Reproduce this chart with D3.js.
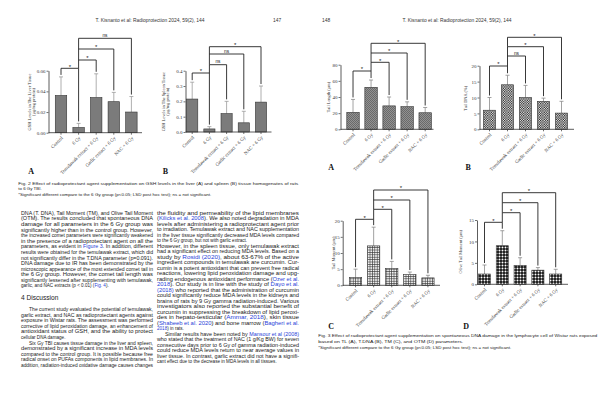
<!DOCTYPE html>
<html><head><meta charset="utf-8">
<script src="https://cdn.jsdelivr.net/npm/d3@7"></script>
<style>html,body{margin:0;padding:0;background:#fff;} svg{display:block;}</style>
</head><body>
<svg id="c" width="600" height="400"></svg>
<script>
// ---------- DATA ----------
const groups = ["Control","6 Gy","Temulawak extract + 6 Gy","Garlic extract + 6 Gy","NAC + 6 Gy"];
const comparisons = [[0,1],[1,2],[1,3],[1,4]];

const gshLiverMean = [0.036,0.005,0.034,0.030,0.020];
const gshLiverSD   = [0.018,0.004,0.023,0.009,0.015];
const gshLiverSig  = ["*","*","*","ns"];
const gshLiverTicks = [0,0.02,0.04,0.06];

const gshSpleenMean = [0.215,0.02,0.12,0.06,0.195];
const gshSpleenSD   = [0.11,0.015,0.08,0.075,0.105];
const gshSpleenSig  = ["*","ns","ns","*"];
const gshSpleenTicks = [0,0.1,0.2,0.3,0.4];

const tlMean = [21,52,29,28,20.5];
const tlSD   = [16,9,11,6,6.5];
const tlSig  = ["*","*","*","*"];
const tlTicks = [0,20,40,60,80];

const tdnaMean = [6,14,10,8.8,5.1];
const tdnaSD   = [4,3,3.8,1,3.7];
const tdnaSig  = ["*","ns","*","*"];
const tdnaTicks = [0,5,10,15,20];

const tmMean = [2.4,12.2,5.2,3.3,2.3];
const tmSD   = [2.6,5.8,2.2,0.8,0.8];
const tmSig  = ["*","*","*","*"];
const tmTicks = [0,5,10,15,20];

const otmMean = [2.4,9,4.4,3.3,2.4];
const otmSD   = [2.1,3.5,1.8,0.6,1.1];
const otmSig  = ["*","*","*","*"];
const otmTicks = [0,5,10,15];

// ---------- TEXT ----------
const headerLeft = "T. Kisnanto et al: Radioprotection 2024, 59(2), 144";
const headerRight = "T. Kisnanto et al: Radioprotection 2024, 59(2), 144";
const fig2Caption = [
 "Fig. 2 Effect of radioprotectant agent supplementation on GSH levels in the liver (A) and spleen (B) tissue homogenates of rats",
 "to 6 Gy TBI.",
 "*Significant different compare to the 6 Gy group (p<0.05; LSD post hoc test); ns = not significant."
];
const fig3Caption = [
 "Fig. 3 Effect of radioprotectant agent supplementation on spontaneous DNA damage in the lymphocyte cell of Wistar rats exposed",
 "based on TL (A), T.DNA (B), TM (C), and OTM (D) parameters.",
 "*Significant different compare to the 6 Gy group (p<0.05; LSD post hoc test); ns = not significant."
];
const col1a = [
 "DNA (T. DNA), Tail Moment (TM), and Olive Tail Moment",
 "(OTM). The results concluded that spontaneous DNA",
 "damage for all parameters in the 6 Gy group was",
 "significantly higher than in the control group. However,",
 "the increased comet parameters were significantly weakened",
 "in the presence of a radioprotectant agent on all the",
 "parameters, as evident in [[Figure 3]]. In addition, different",
 "results were obtained for the temulawak extract, which did",
 "not significantly differ in the T.DNA parameter (p=0.091).",
 "DNA damage due to IR has been demonstrated by the",
 "microscopic appearance of the most extended comet tail in",
 "the 6 Gy group. However, the comet tail length was",
 "significantly lessened after supplementing with temulawak,",
 "garlic, and NAC extracts (p < 0.01) ([[Fig. 4]]).¶"
];
const discussionTitle = "4 Discussion";
const col1b = [
 "\tThe current study evaluated the potential of temulawak,",
 "garlic extract, and NAC as radioprotectant agents against",
 "exposure in Wistar rats. The assessment was performed",
 "corrective of lipid peroxidation damage, an enhancement of",
 "antioxidant status of GSH, and the ability to protect",
 "cellular DNA damage.¶",
 "\tSix Gy TBI causes tissue damage in the liver and spleen,",
 "demonstrated by a significant increase in MDA levels",
 "compared to the control group. It is possible because free",
 "radical onset on PUFAs components in lipid membranes. In",
 "addition, radiation-induced oxidative damage causes changes"
];
const col2 = [
 "the fluidity and permeability of the lipid membranes",
 "([[Kilicks et al. 2008]]). We also noted degradation in MDA",
 "levels after administering a radioprotectant agent prior",
 "to irradiation. Temulawak extract and NAC supplementation",
 "in the liver tissue significantly decreased MDA levels compared",
 "to the 6 Gy group, but not with garlic extract.¶",
 "However, in the spleen tissue, only temulawak extract",
 "had a significant effect on reducing MDA levels. Based on a",
 "study by [[Rosidi (2020)]], about 63-67% of the active",
 "ingredient compounds in temulawak are curcumin. Cur-",
 "cumin is a potent antioxidant that can prevent free radical",
 "reactions, lowering lipid peroxidation damage and upg-",
 "rading endogenous antioxidant performance ([[Ozer et al.]]",
 "[[2018]]). Our study is in line with the study of [[Dayo et al.]]",
 "[[(2018)]] who reported that the administration of curcumin",
 "could significantly reduce MDA levels in the kidneys and",
 "brains of rats by 9 Gy gamma radiation-induced. Various",
 "investigators also reported the substantial benefit of",
 "curcumin in suppressing the breakdown of lipid peroxi-",
 "des in hepato-testicular ([[Ammar, 2018]]), skin tissue",
 "([[Shabeeb et al. 2020]]) and bone marrow ([[Bagheri et al.]]",
 "[[2018]]) in rats.¶",
 "\tSimilar results have been noted by [[Mansour et al (2008)]]",
 "who stated that the treatment of NAC (1 g/Kg BW) for seven",
 "consecutive days prior to 6 Gy of gamma radiation-induced",
 "could reduce MDA levels return to near average values in",
 "liver tissue. In contrast, garlic extract did not have a signifi-",
 "cant effect due to the decrease in MDA levels in all tissues.¶"
];

// ---------- RENDER ----------
const svg = d3.select("#c");
svg.append("rect").attr("width",600).attr("height",400).attr("fill","#fff");
const defs = svg.append("defs");
defs.append("clipPath").attr("id","clipL").append("rect").attr("x",0).attr("y",0).attr("width",300).attr("height",400);
defs.append("clipPath").attr("id","clipR").append("rect").attr("x",300).attr("y",0).attr("width",300).attr("height",400);

function pattern(id,w,h){return defs.append("pattern").attr("id",id).attr("patternUnits","userSpaceOnUse").attr("width",w).attr("height",h);}
let p = pattern("texGray",2,2);
p.append("rect").attr("width",2).attr("height",2).attr("fill","#929292");
p.append("rect").attr("width",1).attr("height",1).attr("fill","#6a6a6a");
p.append("rect").attr("x",1).attr("y",1).attr("width",1).attr("height",1).attr("fill","#6a6a6a");
p = pattern("checker",2.4,2.4);
p.append("rect").attr("width",2.4).attr("height",2.4).attr("fill","#fff");
p.append("rect").attr("width",1.2).attr("height",1.2).attr("fill","#111");
p.append("rect").attr("x",1.2).attr("y",1.2).attr("width",1.2).attr("height",1.2).attr("fill","#111");
p = pattern("grid",2.4,2.4);
p.append("rect").attr("width",2.4).attr("height",2.4).attr("fill","#f2f2f2");
p.append("rect").attr("width",2.4).attr("height",0.6).attr("fill","#333");
p.append("rect").attr("width",0.6).attr("height",2.4).attr("fill","#333");
p = pattern("dots",3,3);
p.append("rect").attr("width",3).attr("height",3).attr("fill","#111");
p.append("circle").attr("cx",1.5).attr("cy",1.5).attr("r",1).attr("fill","#fff");

const SANS = "'Liberation Sans', Arial, sans-serif";
const SERIF = "'Liberation Serif', 'Times New Roman', serif";

function addText(parent, str, x, y, o={}) {
  let indent = 0;
  let justify = o.len != null;
  if (str.startsWith("\t")) { str = str.slice(1); indent = 8; }
  if (str.endsWith("¶")) { str = str.slice(0,-1); justify = false; }
  const t = parent.append("text").attr("x",x+indent).attr("y",y).attr("dy","0.35em")
    .attr("font-family", o.family || SANS)
    .attr("font-size", o.size || 4.7).attr("fill", o.fill || "#222");
  if (o.weight) t.attr("font-weight", o.weight);
  if (o.anchor) t.attr("text-anchor", o.anchor);
  if (justify) t.attr("textLength", o.len - indent).attr("lengthAdjust","spacingAndGlyphs");
  str.split(/(\[\[.*?\]\])/).forEach(s => {
    if (!s) return;
    if (s.startsWith("[[")) t.append("tspan").attr("fill","#2b3fd8").text(s.slice(2,-2));
    else t.append("tspan").text(s);
  });
  return t;
}

const left = svg.append("g").attr("clip-path","url(#clipL)");
const right = svg.append("g").attr("clip-path","url(#clipR)");

// headers
addText(left, headerLeft, 150, 20.7, {anchor:"middle", size:4.9, fill:"#333"});
addText(left, "147", 273, 20.7, {size:4.9, fill:"#333"});
addText(right, "148", 322, 20.7, {size:4.9, fill:"#333"});
addText(right, headerRight, 457, 20.7, {anchor:"middle", size:4.9, fill:"#333"});

// captions
addText(left, fig2Caption[0], 18.3, 183.5, {size:4.4, len:280});
addText(left, fig2Caption[1], 18.3, 188.6, {size:4.4});
addText(left, fig2Caption[2], 18.3, 194, {size:4.4, len:193});
addText(right, fig3Caption[0], 318.3, 335.8, {size:4.4, len:279});
addText(right, fig3Caption[1], 318.3, 341.5, {size:4.4, len:145});
addText(right, fig3Caption[2], 318.3, 347.3, {size:4.4, len:193});

// body text
col1a.forEach((s,i)=>addText(left, s, 21, 213.3 + i*5.58, {len:132, size:4.6}));
addText(left, discussionTitle, 21, 298, {size:6.6});
col1b.forEach((s,i)=>addText(left, s, 21, 309.3 + i*5.6, {len:132, size:4.6}));
col2.forEach((s,i)=>addText(left, s, 157, 213.3 + i*5.5, {len:142, size:4.6}));

// ---------- CHARTS ----------
const charts = [
 {mean:gshLiverMean, sd:gshLiverSD, sig:gshLiverSig, ticks:gshLiverTicks, fmt:d3.format(".2f"),
  ylab:["GSH Levels in The Liver Tissue","(µg/mg protein)"], fill:"#7b7b7b", err:"#9a9a9a", letter:"A", page:left,
  L:{axisX:48.5, band:[52.2,140.2], pad:0.35, lineEnd:142, y0:132.7, y1:70.7, labX:[29.2,33], labY:102, br:[68.3,60,49,38.3], letterPos:[28.3,171]}},
 {mean:gshSpleenMean, sd:gshSpleenSD, sig:gshSpleenSig, ticks:gshSpleenTicks, fmt:d3.format(".1f"),
  ylab:["GSH Levels in The Spleen Tissue","(µg/mg protein)"], fill:"#7b7b7b", err:"#9a9a9a", letter:"B", page:left,
  L:{axisX:185.5, band:[183.6,269.6], pad:0.35, lineEnd:271.5, y0:132, y1:70.7, labX:[163.3,167.1], labY:101.7, br:[73,64.7,54,46.7], letterPos:[162.7,171]}},
 {mean:tlMean, sd:tlSD, sig:tlSig, ticks:tlTicks, fmt:d3.format("d"),
  ylab:["Tail Length (µm)"], fill:"url(#texGray)", err:"#8a8a8a", letter:"A", page:right,
  L:{axisX:340.5, band:[344,434.2], pad:0.31, lineEnd:433.5, y0:129.3, y1:64.7, labX:[328.8], labY:97, br:[71,62.3,53,43.3], letterPos:[328.3,167]}},
 {mean:tdnaMean, sd:tdnaSD, sig:tdnaSig, ticks:tdnaTicks, fmt:d3.format("d"),
  ylab:["Tail DNA (%)"], fill:"url(#checker)", err:"#8a8a8a", letter:"B", page:right,
  L:{axisX:479.5, band:[480.5,570.5], pad:0.32, lineEnd:574, y0:129.3, y1:65.7, labX:[465], labY:98.3, br:[66,56,46.7,37.3], letterPos:[465.5,167]}},
 {mean:tmMean, sd:tmSD, sig:tmSig, ticks:tmTicks, fmt:d3.format("d"),
  ylab:["Tail Moment (µm)"], fill:"url(#grid)", err:"#8a8a8a", letter:"C", page:right,
  L:{axisX:342.7, band:[346.5,437], pad:0.32, lineEnd:440, y0:285.3, y1:220.7, labX:[333.3], labY:253, br:[219.3,209.3,200,190], letterPos:[328.3,326]}},
 {mean:otmMean, sd:otmSD, sig:otmSig, ticks:otmTicks, fmt:d3.format("d"),
  ylab:["Olive Tail Moment (µm)"], fill:"url(#dots)", err:"#8a8a8a", letter:"D", page:right,
  L:{axisX:477, band:[475.6,564.6], pad:0.32, lineEnd:568, y0:284.3, y1:220, labX:[460.5], labY:251.7, br:[222.3,212.7,202.7,192.7], letterPos:[463.3,326]}}
];

function drawChart(c) {
  const L = c.L;
  const g = c.page.append("g");
  const x = d3.scaleBand().domain(groups).range(L.band).paddingInner(L.pad).paddingOuter(L.pad/2);
  const y = d3.scaleLinear().domain([0, c.ticks[c.ticks.length-1]]).range([L.y0, L.y1]);
  const bw = x.bandwidth();
  const cx = i => x(groups[i]) + bw/2;
  const rows = groups.map((name,i)=>({name, m:c.mean[i], s:c.sd[i], i}));

  // error bars (upper only)
  const eg = g.append("g").attr("stroke", c.err).attr("stroke-width",0.8).attr("fill","none");
  rows.forEach(r=>{
    eg.append("line").attr("x1",cx(r.i)).attr("x2",cx(r.i)).attr("y1",y(r.m)).attr("y2",y(r.m+r.s));
    eg.append("line").attr("x1",cx(r.i)-2).attr("x2",cx(r.i)+2).attr("y1",y(r.m+r.s)).attr("y2",y(r.m+r.s));
  });
  // bars
  g.append("g").selectAll("rect").data(rows).join("rect")
    .attr("x", d=>x(d.name)).attr("y", d=>y(d.m)).attr("width", bw).attr("height", d=>L.y0 - y(d.m))
    .attr("fill", c.fill).attr("stroke","#333").attr("stroke-width",0.6);

  // y axis
  const ya = g.append("g").attr("transform",`translate(${L.axisX},0)`)
    .call(d3.axisLeft(y).tickValues(c.ticks).tickSize(2).tickSizeOuter(0).tickFormat(c.fmt));
  ya.select(".domain").attr("stroke","#333").attr("stroke-width",0.8);
  ya.selectAll(".tick line").attr("stroke","#333").attr("stroke-width",0.7);
  ya.selectAll(".tick text").attr("x",-3).attr("font-family",SERIF).attr("font-size",5).attr("fill","#333");

  // x axis
  const xa = g.append("g").attr("transform",`translate(0,${L.y0})`)
    .call(d3.axisBottom(x).tickSize(2).tickSizeOuter(0));
  xa.select(".domain").remove();
  xa.selectAll(".tick line").attr("stroke","#333").attr("stroke-width",0.7);
  xa.selectAll(".tick text").attr("x",0).attr("y",0).attr("dy","0.35em")
    .attr("transform","translate(1,4.5) rotate(-45)").attr("text-anchor","end")
    .attr("font-family",SERIF).attr("font-size",4.8).attr("fill","#333");
  g.append("line").attr("x1",L.axisX).attr("x2",L.lineEnd).attr("y1",L.y0).attr("y2",L.y0)
    .attr("stroke","#333").attr("stroke-width",0.8);

  // y label
  c.ylab.forEach((s,k)=>{
    g.append("text").attr("transform",`translate(${L.labX[k]},${L.labY}) rotate(-90)`)
      .attr("text-anchor","middle").attr("dy","0.35em")
      .attr("font-family",SERIF).attr("font-size",4.4).attr("fill","#333").text(s);
  });

  // brackets
  const bg = g.append("g").attr("stroke","#222").attr("stroke-width",0.9).attr("fill","none");
  comparisons.forEach(([a,b],k)=>{
    const by = L.br[k];
    const xa1 = cx(a), xb1 = cx(b);
    const la = k===0 ? y(c.mean[a]+c.sd[a]) - 2 : L.br[k-1];
    const lb = y(c.mean[b]+c.sd[b]) - 2;
    bg.append("path").attr("d", `M${xa1},${la}V${by}H${xb1}V${lb}`);
    const s = c.sig[k];
    g.append("text").attr("x",(xa1+xb1)/2).attr("y", s==="*" ? by+0.3 : by-1.4)
      .attr("text-anchor","middle").attr("font-family",SANS)
      .attr("font-size", s==="*" ? 6 : 4.8).attr("fill","#222").text(s);
  });

  // panel letter
  g.append("text").attr("x",L.letterPos[0]).attr("y",L.letterPos[1]).attr("dy","0.35em")
    .attr("font-family",SERIF).attr("font-weight","bold").attr("font-size",8).attr("fill","#111").text(c.letter);
}
charts.forEach(drawChart);
</script>
</body></html>
